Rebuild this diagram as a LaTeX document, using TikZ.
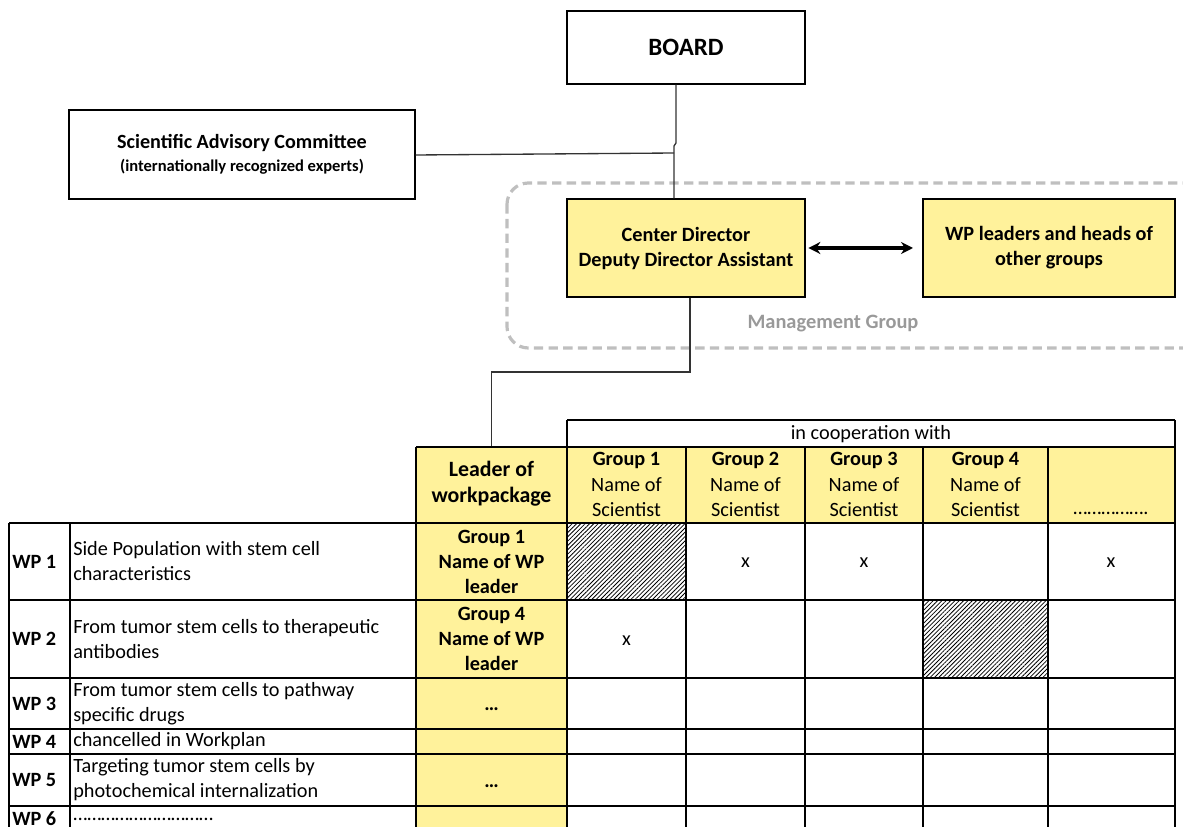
\documentclass[tikz,border=0pt]{standalone}
\usepackage{fontspec}
\setmainfont{Carlito}
\usetikzlibrary{patterns.meta,arrows.meta}
\definecolor{wpyellow}{HTML}{FFF29B}
\definecolor{mggray}{HTML}{BFBFBF}
\begin{document}
\begin{tikzpicture}[x=0.75pt,y=-0.75pt,
  box/.style={draw=black,line width=1pt,inner sep=0pt,align=center},
  ybox/.style={box,fill=wpyellow},
  conn/.style={draw=black!80,line width=1pt},
  tab/.style={inner sep=0pt,align=center,font=\fontsize{15.2}{18.75}\selectfont},
  tabb/.style={tab,font=\fontsize{15.2}{18.75}\selectfont\bfseries},
  grid/.style={draw=black,line width=1.2pt},
  hatch/.style={pattern={Lines[angle=45,distance=2.3pt,line width=0.6pt]}}
]
\useasboundingbox (0,0) rectangle (1183,827);
\clip (0,0) rectangle (1183,827);

% management group
\draw[mggray,line width=2.4pt,dash pattern=on 7pt off 4pt,rounded corners=16pt]
  (507,183) rectangle (1215,348);
\node[text=black!40,font=\fontsize{15.3}{18}\selectfont\bfseries] (mg) at (833,324) {Management Group};

% top boxes
\node[box,minimum width=178.5pt,minimum height=54.75pt,font=\fontsize{18.7}{22}\selectfont\bfseries] (board) at (686,47.5) {BOARD};
\node[box,minimum width=259.5pt,minimum height=66.75pt] (sac) at (242,154.5)
  {{\fontsize{15.1}{18}\selectfont\bfseries Scientific Advisory Committee}\\[5pt]
   {\fontsize{12.4}{14}\selectfont\bfseries (internationally recognized experts)}};
\node[ybox,minimum width=178.5pt,minimum height=73.5pt,font=\fontsize{15.2}{18.75}\selectfont\bfseries] (cd) at (686,248)
  {Center Director\\Deputy Director Assistant};
\node[ybox,minimum width=189pt,minimum height=73.5pt,font=\fontsize{15.2}{18.75}\selectfont\bfseries] (wpl) at (1049,248)
  {WP leaders and heads of\\other groups};

\coordinate (j1) at (676,143);
\coordinate (j2) at (674,146);
\coordinate (sacj) at (674,153);
\draw[conn] (board.south -| j1) -- (j1) -- (j2) -- (cd.north -| j2);
\draw[conn] (sac.east |- 0,155) -- (sacj);
\draw[line width=2.3pt,{Stealth[length=9pt,width=9pt]}-{Stealth[length=9pt,width=9pt]}] ([xshift=2pt]cd.east) -- ([xshift=-7pt]wpl.west);

% table fills
\fill[wpyellow] (416,447) rectangle (1175,523);
\fill[wpyellow] (416,523) rectangle (567,840);
\fill[hatch] (567,523) rectangle (686,600);
\fill[hatch] (923,600) rectangle (1048,678);

% leader header node
\node[tabb,minimum width=113.25pt,minimum height=57pt,font=\fontsize{16.4}{19.5}\selectfont\bfseries] (lead) at (491.5,484) {Leader of\\workpackage};
\coordinate (cdl) at (690,372);
\draw[conn] (cd.south -| cdl) -- (cdl) -- (cdl -| lead.north) -- (lead.north);

% grid
\draw[grid] (567,420) -- (1175,420);
\draw[grid] (416,447) -- (1175,447);
\foreach \y in {523,600,678,729,754,806} \draw[grid] (9,\y) -- (1175,\y);
\foreach \x in {9,70} \draw[grid] (\x,523) -- (\x,840);
\draw[grid] (416,447) -- (416,840);
\draw[grid] (567,420) -- (567,840);
\foreach \x in {686,805,923,1048} \draw[grid] (\x,447) -- (\x,840);
\draw[grid] (1175,420) -- (1175,840);

% header texts
\node[tab] (coop) at (871,434) {in cooperation with};
\foreach \i/\x in {1/626.5,2/745.5,3/864,4/985.5}{
  \node[tabb] (g\i) at (\x,460) {Group \i};
  \node[tab] (n\i) at (\x,485) {Name of};
  \node[tab] (s\i) at (\x,510) {Scientist};
}
\node[tab] (g5) at (1111,513) {…………….};

% row labels
\foreach \n/\y in {1/561.5,2/639,3/703.5,4/741.5,5/780}
  \node[tabb,anchor=west] (wp\n) at (12,\y) {WP \n};
\node[tabb,anchor=west] (wp6) at (12,819) {WP 6};

\node[tab,anchor=west,align=left] (d1) at (73,561.5) {Side Population with stem cell\\characteristics};
\node[tab,anchor=west,align=left] (d2) at (73,639) {From tumor stem cells to therapeutic\\antibodies};
\node[tab,anchor=west,align=left] (d3) at (73,703.5) {From tumor stem cells to pathway\\specific drugs};
\node[tab,anchor=west,align=left] (d4) at (73,741.5) {chancelled in Workplan};
\node[tab,anchor=west,align=left] (d5) at (73,780) {Targeting tumor stem cells by\\photochemical internalization};
\node[tab,anchor=west,align=left] (d6) at (73,819) {…………………………};

% leaders
\node[tabb] (l1) at (491.5,561.5) {Group 1\\Name of WP\\leader};
\node[tabb] (l2) at (491.5,639) {Group 4\\Name of WP\\leader};
\node[tabb] (l3) at (491.5,709) {…};
\node[tabb] (l5) at (491.5,786) {…};

% crosses
\node[tab] (x12) at (745.5,563) {x};
\node[tab] (x13) at (864,563) {x};
\node[tab] (x15) at (1111,563) {x};
\node[tab] (x21) at (626.5,641) {x};
\end{tikzpicture}
\end{document}
